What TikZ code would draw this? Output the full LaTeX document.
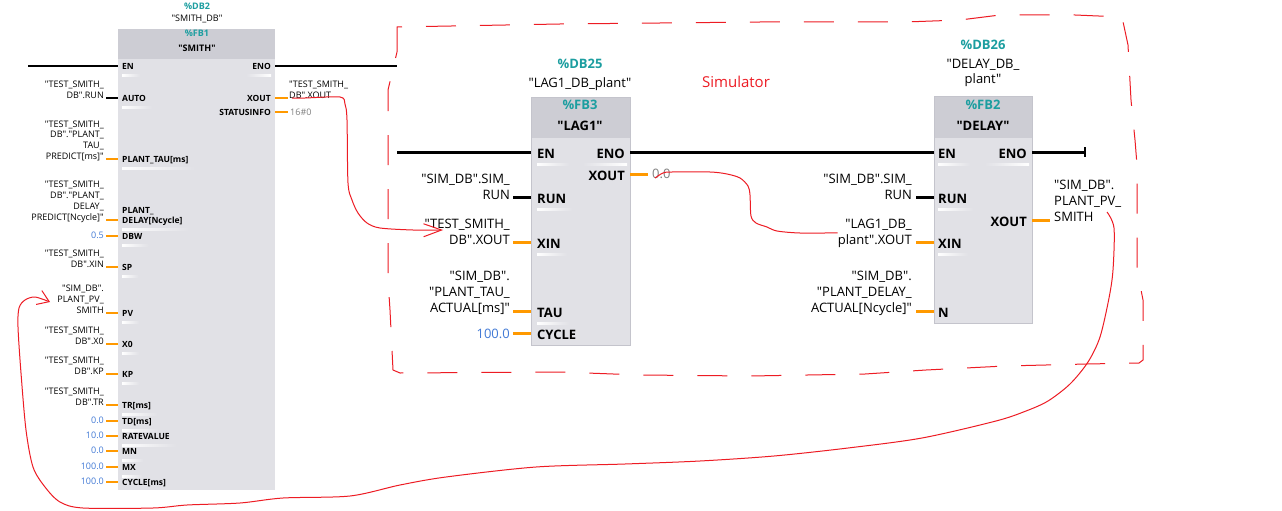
\documentclass[tikz,border=0pt]{standalone}
\usepackage{fontspec}
\setmainfont{Open Sans}[Ligatures=TeXOff]
\usetikzlibrary{arrows.meta}

\definecolor{fbteal}{RGB}{28,158,160}
\definecolor{fbhead}{RGB}{205,205,212}
\definecolor{fbbody}{RGB}{225,225,230}
\definecolor{fbedge}{RGB}{196,196,204}
\definecolor{pinorange}{RGB}{255,153,0}
\definecolor{constblue}{RGB}{66,122,214}
\definecolor{valgray}{RGB}{128,128,128}
\definecolor{penred}{RGB}{237,28,36}

\tikzset{
  fbbox/.style={fill=fbbody, inner sep=0pt, outer sep=0pt, anchor=north west},
  fbedgeline/.style={draw=fbedge, line width=0.6pt},
  slot/.style={left color=white, right color=fbbody},
  slotr/.style={left color=fbbody, right color=white},
  smtxt/.style={font=\fontsize{9}{10.8}\selectfont, inner sep=0pt},
  smlbl/.style={smtxt, align=right, anchor=base east},
  smlblr/.style={smtxt, align=left, anchor=base west},
  smval/.style={smtxt, text=constblue, anchor=base east},
  smpin/.style={font=\fontsize{8.5}{10}\selectfont\bfseries, inner sep=0pt, text height=7pt, text depth=0pt, anchor=west, align=left},
  smpinr/.style={smpin, anchor=east},
  smttl/.style={font=\fontsize{9}{11}\selectfont\bfseries, text=fbteal, anchor=base, inner sep=0pt},
  sminst/.style={smtxt, anchor=base},
  smname/.style={font=\fontsize{9}{11}\selectfont\bfseries, anchor=base, inner sep=0pt},
  bgtxt/.style={font=\fontsize{13}{16}\selectfont, inner sep=0pt},
  bglbl/.style={bgtxt, align=right, anchor=base east},
  bglblr/.style={bgtxt, align=left, anchor=base west},
  bgval/.style={bgtxt, text=constblue, anchor=base east},
  bgpin/.style={font=\fontsize{13}{16}\selectfont\bfseries, inner sep=0pt, text height=12pt, text depth=0pt, anchor=west},
  bgpinr/.style={bgpin, anchor=east},
  bgttl/.style={font=\fontsize{13}{16}\selectfont\bfseries, text=fbteal, anchor=base, inner sep=0pt},
  bginst/.style={bgtxt, align=center, anchor=base},
  bgname/.style={font=\fontsize{13}{16}\selectfont\bfseries, anchor=base, inner sep=0pt},
  smbool/.style={draw=black, line width=1.2pt},
  smwire/.style={draw=pinorange, line width=1.2pt},
  smwirethick/.style={draw=pinorange, line width=2pt},
  bgbool/.style={draw=black, line width=3pt},
  bgwire/.style={draw=pinorange, line width=3pt},
  rail/.style={draw=black, line width=3pt},
  pen/.style={draw=penred, line width=1pt},
}

\begin{document}
\begin{tikzpicture}[x=1pt,y=-1pt]
\useasboundingbox (0,0) rectangle (1282,511);
\fill[white] (0,0) rectangle (1282,511);

\draw[pen, dash pattern=on 30pt off 24pt] (397,52) -- (397,27) -- (560,24) -- (760,22) -- (905,22) -- (960,20) -- (1000,15) -- (1075,15) -- (1122,17) -- (1128,45) -- (1131,100) -- (1135,140) -- (1137,165) -- (1137,270) -- (1143,300) -- (1143,360) -- (1139,363) -- (1087,364) -- (1005,366) -- (926,370) -- (865,374) -- (750,376) -- (640,375) -- (560,372) -- (400,373) -- (393,370) -- (390,310) -- (388,280) -- (388,90) -- cycle;
\node[font=\fontsize{15}{18}\selectfont, text=penred, anchor=base, inner sep=0pt] (simtxt) at (736,87) {Simulator};

\node[fbbox, minimum width=157pt, minimum height=461pt] (smith) at (118,29) {};
\fill[fbhead] (smith.north west) rectangle ([yshift=-30pt]smith.north east);
\node[smttl] (smith-db) at (197,10) {\%DB2};
\node[sminst] (smith-inst) at (197,22) {"SMITH\_DB"};
\node[smttl] (smith-fb) at (197,37) {\%FB1};
\node[smname] (smith-name) at (197,52) {"SMITH"};

\coordinate (railA) at (28,66);
\node[smpin] (s-en) at (122,66) {EN};
\draw[smbool] (railA) -- (smith.west |- s-en.west);
\node[smpin] (s-auto) at (122,98) {AUTO};
\node[smlbl] (l-auto) at (104,98.5) {"TEST\_SMITH\_\\DB".RUN};
\draw[smbool, shorten <=2pt] (l-auto.east |- s-auto.west) -- (smith.west |- s-auto.west);
\node[smpin] (s-tau) at (122,159) {PLANT\_TAU[ms]};
\node[smlbl] (l-tau) at (104,159.5) {"TEST\_SMITH\_\\DB"."PLANT\_\\TAU\_\\PREDICT[ms]"};
\draw[smwire, shorten <=2pt] (l-tau.east |- s-tau.west) -- (smith.west |- s-tau.west);
\node[smpin] (s-delay) at (122,220) {PLANT\_\\DELAY[Ncycle]};
\node[smlbl] (l-delay) at (104,220) {"TEST\_SMITH\_\\DB"."PLANT\_\\DELAY\_\\PREDICT[Ncycle]"};
\draw[smwire, shorten <=2pt] (l-delay.east |- s-delay.west) -- (smith.west |- s-delay.west);
\node[smpin] (s-dbw) at (122,236) {DBW};
\node[smval] (l-dbw) at (104,238) {0.5};
\draw[smwire, shorten <=2pt] (l-dbw.east |- s-dbw.west) -- (smith.west |- s-dbw.west);
\node[smpin] (s-sp) at (122,267) {SP};
\node[smlbl] (l-sp) at (104,267.5) {"TEST\_SMITH\_\\DB".XIN};
\draw[smwire, shorten <=2pt] (l-sp.east |- s-sp.west) -- (smith.west |- s-sp.west);
\node[smpin] (s-pv) at (122,313) {PV};
\node[smlbl] (l-pv) at (104,313.5) {"SIM\_DB".\\PLANT\_PV\_\\SMITH};
\draw[smwire, shorten <=2pt] (l-pv.east |- s-pv.west) -- (smith.west |- s-pv.west);
\node[smpin] (s-x0) at (122,344) {X0};
\node[smlbl] (l-x0) at (104,344.5) {"TEST\_SMITH\_\\DB".X0};
\draw[smwire, shorten <=2pt] (l-x0.east |- s-x0.west) -- (smith.west |- s-x0.west);
\node[smpin] (s-kp) at (122,374) {KP};
\node[smlbl] (l-kp) at (104,374.5) {"TEST\_SMITH\_\\DB".KP};
\draw[smwirethick, shorten <=2pt] (l-kp.east |- s-kp.west) -- (smith.west |- s-kp.west);
\node[smpin] (s-tr) at (122,405) {TR[ms]};
\node[smlbl] (l-tr) at (104,405.5) {"TEST\_SMITH\_\\DB".TR};
\draw[smwirethick, shorten <=2pt] (l-tr.east |- s-tr.west) -- (smith.west |- s-tr.west);
\node[smpin] (s-td) at (122,421) {TD[ms]};
\node[smval] (l-td) at (104,423) {0.0};
\draw[smwirethick, shorten <=2pt] (l-td.east |- s-td.west) -- (smith.west |- s-td.west);
\node[smpin] (s-rate) at (122,436) {RATEVALUE};
\node[smval] (l-rate) at (104,438) {10.0};
\draw[smwirethick, shorten <=2pt] (l-rate.east |- s-rate.west) -- (smith.west |- s-rate.west);
\node[smpin] (s-mn) at (122,451) {MN};
\node[smval] (l-mn) at (104,453) {0.0};
\draw[smwirethick, shorten <=2pt] (l-mn.east |- s-mn.west) -- (smith.west |- s-mn.west);
\node[smpin] (s-mx) at (122,467) {MX};
\node[smval] (l-mx) at (104,469) {100.0};
\draw[smwirethick, shorten <=2pt] (l-mx.east |- s-mx.west) -- (smith.west |- s-mx.west);
\node[smpin] (s-cycle) at (122,482) {CYCLE[ms]};
\node[smval] (l-cycle) at (104,484) {100.0};
\draw[smwirethick, shorten <=2pt] (l-cycle.east |- s-cycle.west) -- (smith.west |- s-cycle.west);

\node[smpinr] (s-eno) at (271,66) {ENO};
\coordinate (cutA) at (397,66);
\draw[smbool, line width=2pt] (smith.east |- s-eno.east) -- (cutA);
\node[smpinr] (s-xout) at (271,98) {XOUT};
\node[smlblr] (r-xout) at (289,98) {"TEST\_SMITH\_\\DB".XOUT};
\draw[smwire, shorten >=1pt] (smith.east |- s-xout.east) -- (r-xout.west |- s-xout.east);
\node[smpinr] (s-stat) at (271,112) {STATUSINFO};
\node[smtxt, text=valgray, anchor=base west] (r-stat) at (290,115) {16\#0};
\draw[smwire, shorten >=2pt] (smith.east |- s-stat.east) -- (r-stat.west |- s-stat.east);

\shade[slot] ([yshift=-5pt]s-en.south west) rectangle ([yshift=-6.5pt,xshift=6pt]s-en.south east);
\shade[slot] ([yshift=-5pt]s-auto.south west) rectangle ([yshift=-6.5pt,xshift=6pt]s-auto.south east);
\shade[slot] ([yshift=-5pt]s-tau.south west) rectangle ([yshift=-6.5pt,xshift=6pt]s-tau.south east);
\shade[slot] ([yshift=-5pt]s-delay.south west) rectangle ([yshift=-6.5pt,xshift=6pt]s-delay.south east);
\shade[slot] ([yshift=-5pt]s-dbw.south west) rectangle ([yshift=-6.5pt,xshift=6pt]s-dbw.south east);
\shade[slot] ([yshift=-5pt]s-sp.south west) rectangle ([yshift=-6.5pt,xshift=6pt]s-sp.south east);
\shade[slot] ([yshift=-5pt]s-pv.south west) rectangle ([yshift=-6.5pt,xshift=6pt]s-pv.south east);
\shade[slot] ([yshift=-5pt]s-x0.south west) rectangle ([yshift=-6.5pt,xshift=6pt]s-x0.south east);
\shade[slot] ([yshift=-5pt]s-kp.south west) rectangle ([yshift=-6.5pt,xshift=6pt]s-kp.south east);
\shade[slot] ([yshift=-5pt]s-tr.south west) rectangle ([yshift=-6.5pt,xshift=6pt]s-tr.south east);
\shade[slot] ([yshift=-5pt]s-td.south west) rectangle ([yshift=-6.5pt,xshift=6pt]s-td.south east);
\shade[slot] ([yshift=-5pt]s-rate.south west) rectangle ([yshift=-6.5pt,xshift=6pt]s-rate.south east);
\shade[slot] ([yshift=-5pt]s-mn.south west) rectangle ([yshift=-6.5pt,xshift=6pt]s-mn.south east);
\shade[slot] ([yshift=-5pt]s-mx.south west) rectangle ([yshift=-6.5pt,xshift=6pt]s-mx.south east);
\shade[slotr] ([yshift=-5pt,xshift=-6pt]s-eno.south west) rectangle ([yshift=-6.5pt]s-eno.south east);

\node[fbbox, minimum width=99pt, minimum height=248pt] (lag) at (531,97) {};
\fill[fbhead] (lag.north west) rectangle ([yshift=-41pt]lag.north east);
\draw[fbedgeline] (lag.north west) rectangle (lag.south east);
\node[bgttl] (lag-db) at (580,69) {\%DB25};
\node[bginst] (lag-inst) at (580,87) {"LAG1\_DB\_plant"};
\node[bgttl] (lag-fb) at (580,109) {\%FB3};
\node[bgname] (lag-name) at (580,130) {"LAG1"};

\coordinate (railB) at (397,152);
\node[bgpin] (g-en) at (537,152) {EN};
\draw[rail] (railB) -- (lag.west |- g-en.west);
\node[bgpin] (g-run) at (537,197) {RUN};
\node[bglbl] (lg-run) at (510,199) {"SIM\_DB".SIM\_\\RUN};
\draw[bgbool, shorten <=3pt] (lg-run.east |- g-run.west) -- (lag.west |- g-run.west);
\node[bgpin] (g-xin) at (537,242) {XIN};
\node[bglbl] (lg-xin) at (510,244) {"TEST\_SMITH\_\\DB".XOUT};
\draw[bgwire, shorten <=3pt] (lg-xin.east |- g-xin.west) -- (lag.west |- g-xin.west);
\node[bgpin] (g-tau) at (537,311) {TAU};
\node[bglbl] (lg-tau) at (510,312) {"SIM\_DB".\\"PLANT\_TAU\_\\ACTUAL[ms]"};
\draw[bgwire, shorten <=3pt] (lg-tau.east |- g-tau.west) -- (lag.west |- g-tau.west);
\node[bgpin] (g-cycle) at (537,333) {CYCLE};
\node[bgval] (lg-cycle) at (510,338) {100.0};
\draw[bgwire, shorten <=3pt] (lg-cycle.east |- g-cycle.west) -- (lag.west |- g-cycle.west);
\node[bgpinr] (g-eno) at (625,152) {ENO};
\node[bgpinr] (g-xout) at (625,174) {XOUT};
\node[bgtxt, text=valgray, anchor=base west] (rg-xout) at (652,178) {0.0};
\draw[bgwire, shorten >=4pt] (lag.east |- g-xout.east) -- (rg-xout.west |- g-xout.east);

\shade[slot] ([yshift=-5pt]g-en.south west) rectangle ([yshift=-7pt,xshift=14pt]g-en.south east);
\shade[slotr] ([yshift=-5pt,xshift=-14pt]g-eno.south west) rectangle ([yshift=-7pt,xshift=2pt]g-eno.south east);
\shade[slot] ([yshift=-5pt]g-run.south west) rectangle ([yshift=-7pt,xshift=6pt]g-run.south east);
\shade[slot] ([yshift=-5pt]g-xin.south west) rectangle ([yshift=-7pt,xshift=6pt]g-xin.south east);
\shade[slot] ([yshift=-5pt]g-tau.south west) rectangle ([yshift=-7pt,xshift=6pt]g-tau.south east);

\node[fbbox, minimum width=98pt, minimum height=227pt] (delay) at (934,96) {};
\fill[fbhead] (delay.north west) rectangle ([yshift=-42pt]delay.north east);
\draw[fbedgeline] (delay.north west) rectangle (delay.south east);
\node[bgttl] (delay-db) at (983,50) {\%DB26};
\node[bginst] (delay-inst) at (983,84) {"DELAY\_DB\_\\plant"};
\node[bgttl] (delay-fb) at (983,109) {\%FB2};
\node[bgname] (delay-name) at (983,130) {"DELAY"};

\node[bgpin] (d-en) at (938,152) {EN};
\draw[rail] (lag.east |- g-eno.east) -- (delay.west |- d-en.west);
\node[bgpin] (d-run) at (938,197) {RUN};
\node[bglbl] (ld-run) at (912,199) {"SIM\_DB".SIM\_\\RUN};
\draw[bgbool, shorten <=4pt] (ld-run.east |- d-run.west) -- (delay.west |- d-run.west);
\node[bgpin] (d-xin) at (938,242) {XIN};
\node[bglbl] (ld-xin) at (912,244) {"LAG1\_DB\_\\plant".XOUT};
\draw[bgwire, shorten <=4pt] (ld-xin.east |- d-xin.west) -- (delay.west |- d-xin.west);
\node[bgpin] (d-n) at (938,311) {N};
\node[bglbl] (ld-n) at (912,312) {"SIM\_DB".\\"PLANT\_DELAY\_\\ACTUAL[Ncycle]"};
\draw[bgwire, shorten <=4pt] (ld-n.east |- d-n.west) -- (delay.west |- d-n.west);
\node[bgpinr] (d-eno) at (1027,152) {ENO};
\coordinate (railEnd) at (1086,152);
\draw[rail, -{Bar[width=10pt,line width=2pt]}] (delay.east |- d-eno.east) -- (railEnd);
\node[bgpinr] (d-xout) at (1027,220) {XOUT};
\node[bglblr] (rd-xout) at (1054,221) {"SIM\_DB".\\PLANT\_PV\_\\SMITH};
\draw[bgwire, shorten >=4pt] (delay.east |- d-xout.east) -- (rd-xout.west |- d-xout.east);

\shade[slot] ([yshift=-5pt]d-en.south west) rectangle ([yshift=-7pt,xshift=14pt]d-en.south east);
\shade[slotr] ([yshift=-5pt,xshift=-14pt]d-eno.south west) rectangle ([yshift=-7pt,xshift=2pt]d-eno.south east);
\shade[slot] ([yshift=-5pt]d-run.south west) rectangle ([yshift=-7pt,xshift=6pt]d-run.south east);
\shade[slot] ([yshift=-5pt]d-xin.south west) rectangle ([yshift=-7pt,xshift=6pt]d-xin.south east);

\coordinate (tipA) at (443,230);
\draw[pen, -{Straight Barb[length=18pt,width=13pt]}] plot[smooth, tension=0.5] coordinates {([xshift=3pt]r-xout.base west) (305,98) (340,97) (345,104) (347,120) (348,183) (352,200) (358,213) (367,223) (380,228) (413,230) (tipA)};
\draw[pen] plot[smooth, tension=0.5] coordinates {([xshift=3pt]rg-xout.base west) (663,173) (672,172) (710,172) (727,174) (740,178) (748,186) (750,195) (751,216) (756,223) (767,227) (777,231) (800,233) (ld-xin.west)};
\coordinate (pvA) at (1107,212);
\coordinate (pvTip) at (50,302);
\draw[pen, -{Straight Barb[length=11pt,width=15pt]}] plot[smooth, tension=0.5] coordinates {(pvA) (1114,228) (1113,270) (1109,298) (1100,337) (1088,362) (1070,384) (1048,401) (1026,411) (996,421) (922,438) (848,448) (774,456) (700,461) (625,464) (536,467) (446,477) (400,485) (350,496) (283,498) (240,503) (187,505) (153,508) (83,508) (60,502) (45,487) (33,467) (26,430) (21,373) (18,327) (19,308) (25,300) (35,297) (pvTip)};
\end{tikzpicture}
\end{document}
